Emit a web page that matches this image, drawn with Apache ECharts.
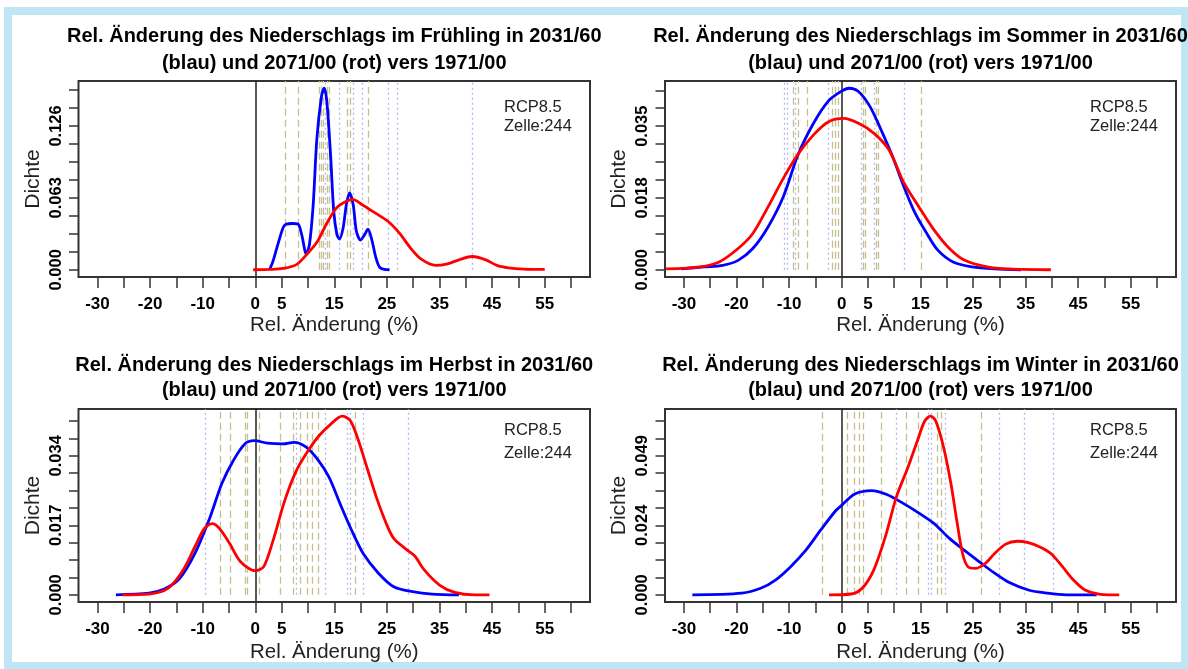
<!DOCTYPE html>
<html>
<head>
<meta charset="utf-8">
<title>Rel. Änderung des Niederschlags</title>
<script src="https://cdn.jsdelivr.net/npm/echarts@6/dist/echarts.min.js"></script>
<style>
  html, body { margin: 0; padding: 0; background: #fff; }
  #chart { width: 1188px; height: 669px; }
</style>
</head>
<body>
<div id="chart"></div>
<script>
// x axis (same for all four panels)
const xTicks = [-30, -25, -20, -15, -10, -5, 0, 5, 10, 15, 20, 25, 30, 35, 40, 45, 50, 55, 60];
const xLabels = [-30, -20, -10, 0, 5, 15, 25, 35, 45, 55];
const xRange = [-33.6, 63.6];

// y tick step per panel (ticks 0..10 steps, labels at 0, 4, 8 steps)
const yTickSteps = [0.01575, 0.0044, 0.00425, 0.0061];

const seasons = ["Frühling", "Sommer", "Herbst", "Winter"];

// Frühling: density of rel. change, 2031/60 (blau) and 2071/00 (rot)
const fruehlingBlau = [
  [2.7, 0], [3.4, 0.008], [4.3, 0.0225], [5.3, 0.037], [5.9, 0.040], [7.0, 0.0405],
  [8.1, 0.040], [8.8, 0.031], [9.7, 0.0139], [10.3, 0.0225], [11.0, 0.057], [11.7, 0.115],
  [12.6, 0.1526], [13.1, 0.159], [13.6, 0.1468], [14.3, 0.1006], [14.9, 0.0514], [15.5, 0.031],
  [16.0, 0.0269], [16.7, 0.037], [17.3, 0.057], [17.9, 0.0673], [18.6, 0.057], [19.2, 0.034],
  [20.0, 0.026], [20.8, 0.031], [21.4, 0.0355], [22.1, 0.0269], [22.9, 0.0109], [23.6, 0.0023],
  [24.5, 0.0003], [25.5, 0]
];
const fruehlingRot = [
  [-0.4, 0], [3.0, 0.0003], [5.3, 0.0012], [7.8, 0.0045], [9.7, 0.013], [11.7, 0.024],
  [13.5, 0.040], [15.4, 0.054], [17.3, 0.060], [18.5, 0.0616], [20.3, 0.057], [22.7, 0.050],
  [25.2, 0.0425], [27.4, 0.032], [29.5, 0.019], [31.6, 0.009], [34.3, 0.0038], [36.5, 0.0052],
  [38.7, 0.0087], [41.2, 0.0116], [43.8, 0.0087], [45.9, 0.0038], [48.1, 0.0017], [51.0, 0.0006],
  [55.0, 0.0003]
];
const fruehlingModelle2031 = [5.7, 8.2, 12.2, 12.6, 12.9, 13.6, 14.0, 17.4, 18.0, 21.4];
const fruehlingModelle2071 = [13.3, 15.9, 18.6, 20.3, 25.3, 27.0, 41.2];

// Sommer
const sommerBlau = [
  [-30.5, 0.0002], [-26.2, 0.0007], [-22.6, 0.0011], [-19.7, 0.0023], [-16.9, 0.0052],
  [-14.0, 0.0105], [-11.1, 0.0179], [-8.3, 0.0282], [-5.4, 0.0358], [-2.5, 0.0414],
  [0, 0.0438], [1.4, 0.0445], [3.2, 0.0437], [5.4, 0.0400], [7.5, 0.0343], [9.7, 0.0277],
  [11.8, 0.0205], [14.0, 0.0138], [16.2, 0.0089], [18.3, 0.0048], [21.2, 0.0019],
  [24.8, 0.0007], [29.1, 0.0002], [34.1, 0]
];
const sommerRot = [
  [-33.4, 0.0002], [-26.9, 0.0007], [-23.3, 0.0019], [-19.7, 0.0052], [-16.9, 0.0089],
  [-14.0, 0.0154], [-11.1, 0.0224], [-8.3, 0.0283], [-5.4, 0.0330], [-2.5, 0.0363],
  [0.4, 0.0371], [3.2, 0.0359], [6.1, 0.0335], [9.0, 0.0294], [11.8, 0.0214], [14.7, 0.0154],
  [17.6, 0.0097], [20.5, 0.0052], [23.4, 0.0023], [27.7, 0.0007], [31.9, 0.0002], [39.8, 0]
];
const sommerModelle2031 = [-9.3, -8.2, -6.5, -1.7, -1.2, -0.6, 4.1, 4.5, 6.5, 7.0, 15.1];
const sommerModelle2071 = [-10.9, -10.3, -8.8, -2.5, 3.7, 6.2, 11.9];

// Herbst
const herbstBlau = [
  [-26.5, 0], [-20.2, 0.0004], [-17.3, 0.0014], [-14.4, 0.004], [-11.5, 0.0101], [-8.6, 0.019],
  [-6.4, 0.0271], [-4.2, 0.0328], [-2.0, 0.0369], [-0.2, 0.0377], [2.3, 0.0371], [5.2, 0.0369],
  [7.4, 0.0373], [9.6, 0.0362], [11.8, 0.0332], [14.0, 0.0288], [16.1, 0.0223], [18.3, 0.0158],
  [20.5, 0.0101], [23.4, 0.0053], [26.3, 0.002], [29.9, 0.0008], [33.6, 0.0002], [38.7, 0]
];
const herbstRot = [
  [-25.3, 0], [-20.2, 0.0002], [-16.6, 0.0016], [-13.7, 0.0061], [-11.5, 0.0117], [-9.7, 0.0162],
  [-8.2, 0.0174], [-6.8, 0.0162], [-4.9, 0.0126], [-2.8, 0.0081], [0, 0.0059], [1.6, 0.0069],
  [3.4, 0.0134], [5.6, 0.0231], [7.8, 0.0304], [10.0, 0.0352], [12.1, 0.0389], [14.3, 0.0417],
  [16.5, 0.0437], [18.0, 0.0427], [19.4, 0.0385], [21.2, 0.0312], [23.0, 0.0239], [24.9, 0.0174],
  [26.3, 0.0138], [28.5, 0.0113], [30.3, 0.0095], [32.1, 0.0061], [35.0, 0.0024], [37.9, 0.0006],
  [41.6, 0], [44.5, 0]
];
const herbstModelle2031 = [-6.6, -4.7, -2.0, -1.6, 0.7, 4.8, 7.3, 8.6, 9.9, 10.8, 12.0, 19.0];
const herbstModelle2071 = [-9.5, 7.8, 13.3, 17.4, 18.0, 20.6, 29.0];

// Winter
const winterBlau = [
  [-28.4, 0], [-19.0, 0.0006], [-15.4, 0.0023], [-12.6, 0.0052], [-9.7, 0.0099], [-6.8, 0.0157],
  [-4.0, 0.0227], [-1.1, 0.0296], [0, 0.0314], [2.5, 0.0354], [5.7, 0.0366], [8.6, 0.0352],
  [11.8, 0.032], [14.7, 0.0287], [17.6, 0.025], [20.5, 0.0198], [23.3, 0.0157], [26.2, 0.0116],
  [29.1, 0.0076], [31.9, 0.0043], [35.5, 0.0017], [39.1, 0.0006], [42.7, 0], [48.5, 0]
];
const winterRot = [
  [-2.4, 0], [1.8, 0.0003], [3.9, 0.0023], [6.1, 0.0087], [8.3, 0.0203], [10.4, 0.0343],
  [12.6, 0.0447], [14.4, 0.054], [15.8, 0.061], [16.9, 0.0627], [17.9, 0.061], [19.4, 0.0517],
  [20.8, 0.0389], [21.9, 0.0261], [23.0, 0.0145], [24.0, 0.0099], [25.5, 0.0093], [27.3, 0.011],
  [29.1, 0.0145], [31.2, 0.0178], [33.4, 0.0188], [35.5, 0.0183], [37.7, 0.0168], [39.8, 0.0145],
  [42.0, 0.0099], [44.1, 0.0052], [46.3, 0.0017], [49.2, 0.0002], [52.8, 0]
];
const winterModelle2031 = [-3.6, 1.1, 2.4, 3.3, 4.1, 7.5, 12.2, 14.5, 18.1, 18.9, 26.5];
const winterModelle2071 = [10.3, 16.5, 17.0, 19.7, 29.9, 34.7, 40.2];

const sans = '"Liberation Sans", Arial, sans-serif';

// layout of the 2x2 panels
const panels = [
  { blue: fruehlingBlau, red: fruehlingRot, m1: fruehlingModelle2031, m2: fruehlingModelle2071,
    grid: { left: 78.5, top: 81, width: 511.5, height: 196 }, titleY: [36.7, 63.3], noteY: [107, 126], nameGap: 38 },
  { blue: sommerBlau, red: sommerRot, m1: sommerModelle2031, m2: sommerModelle2071,
    grid: { left: 665, top: 81, width: 511, height: 196 }, titleY: [36.7, 63.3], noteY: [107, 126], nameGap: 38 },
  { blue: herbstBlau, red: herbstRot, m1: herbstModelle2031, m2: herbstModelle2071,
    grid: { left: 78.5, top: 409, width: 511.5, height: 193 }, titleY: [365, 390.7], noteY: [430.7, 453.3], nameGap: 40 },
  { blue: winterBlau, red: winterRot, m1: winterModelle2031, m2: winterModelle2071,
    grid: { left: 665, top: 409, width: 511, height: 193 }, titleY: [365, 390.7], noteY: [430.7, 453.3], nameGap: 40 }
];

const option = {
  animation: false,
  backgroundColor: "#fff",
  grid: [],
  xAxis: [],
  yAxis: [],
  series: [],
  graphic: [
    {
      type: "rect",
      silent: true,
      shape: { x: 8, y: 11, width: 1177, height: 655 },
      style: { fill: "none", stroke: "#bfe6f5", lineWidth: 8 }
    }
  ]
};

function vLines(values, top, style) {
  return values.map((v) => [
    { coord: [v, 0], lineStyle: style },
    { coord: [v, top] }
  ]);
}

panels.forEach((p, i) => {
  const peak = Math.max(...p.blue.map((d) => d[1]), ...p.red.map((d) => d[1]));
  const yMin = -0.04 * peak;
  const yMax = 1.04 * peak;
  const step = yTickSteps[i];
  const yTicks = [];
  for (let k = 0; k <= 10; k++) yTicks.push(+(k * step).toFixed(6));
  const yLabels = [0, yTicks[4], yTicks[8]];
  const cx = p.grid.left + p.grid.width / 2;

  option.grid.push({
    ...p.grid,
    show: true,
    borderColor: "#333",
    borderWidth: 2,
    backgroundColor: "transparent"
  });

  option.xAxis.push({
    type: "value",
    gridIndex: i,
    min: xRange[0],
    max: xRange[1],
    axisLine: { show: false, onZero: false },
    axisTick: { show: true, length: 11, customValues: xTicks, lineStyle: { color: "#333", width: 1.5 } },
    axisLabel: {
      customValues: xLabels,
      margin: 19,
      color: "#000",
      fontFamily: sans,
      fontWeight: "bold",
      fontSize: 17
    },
    splitLine: { show: false },
    name: "Rel. Änderung (%)",
    nameLocation: "middle",
    nameGap: p.nameGap,
    nameTextStyle: { fontFamily: sans, fontSize: 20.5, color: "#222" }
  });

  option.yAxis.push({
    type: "value",
    gridIndex: i,
    min: yMin,
    max: yMax,
    axisLine: { show: false, onZero: false },
    axisTick: { show: true, length: 9.5, customValues: yTicks, lineStyle: { color: "#333", width: 1.5 } },
    axisLabel: {
      customValues: yLabels,
      rotate: 90,
      margin: 14,
      color: "#000",
      fontFamily: sans,
      fontWeight: "bold",
      fontSize: 16.5,
      formatter: (v) => v.toFixed(3)
    },
    splitLine: { show: false },
    name: "Dichte",
    nameLocation: "middle",
    nameGap: 35,
    nameTextStyle: { fontFamily: sans, fontSize: 21, color: "#222" }
  });

  option.series.push(
    {
      type: "line",
      xAxisIndex: i,
      yAxisIndex: i,
      data: p.blue,
      showSymbol: false,
      smooth: 0.3,
      lineStyle: { color: "#0000ff", width: 2.8 },
      z: 3,
      markLine: {
        silent: true,
        symbol: "none",
        label: { show: false },
        z: 1,
        data: [
          ...vLines(p.m1, yMax, { color: "#c4bf8e", type: [7, 4], width: 1.3 }),
          { xAxis: 0, lineStyle: { color: "#222", type: "solid", width: 1.5 } }
        ]
      }
    },
    {
      type: "line",
      xAxisIndex: i,
      yAxisIndex: i,
      data: p.red,
      showSymbol: false,
      smooth: 0.3,
      lineStyle: { color: "#ff0000", width: 2.8 },
      z: 4,
      markLine: {
        silent: true,
        symbol: "none",
        label: { show: false },
        z: 1,
        data: vLines(p.m2, yMax, { color: "#b3b6f0", type: [2, 3], width: 1.3 })
      }
    }
  );

  option.graphic.push(
    {
      type: "text",
      x: cx,
      y: p.titleY[0],
      silent: true,
      style: {
        text: "Rel. Änderung des Niederschlags im " + seasons[i] + " in 2031/60",
        align: "center",
        verticalAlign: "middle",
        fontFamily: sans,
        fontWeight: "bold",
        fontSize: 20,
        fill: "#000"
      }
    },
    {
      type: "text",
      x: cx,
      y: p.titleY[1],
      silent: true,
      style: {
        text: "(blau) und 2071/00 (rot) vers 1971/00",
        align: "center",
        verticalAlign: "middle",
        fontFamily: sans,
        fontWeight: "bold",
        fontSize: 20,
        fill: "#000"
      }
    },
    {
      type: "text",
      x: p.grid.left + p.grid.width - 86,
      y: p.noteY[0],
      silent: true,
      style: { text: "RCP8.5", verticalAlign: "middle", fontFamily: sans, fontSize: 16.5, fill: "#222" }
    },
    {
      type: "text",
      x: p.grid.left + p.grid.width - 86,
      y: p.noteY[1],
      silent: true,
      style: { text: "Zelle:244", verticalAlign: "middle", fontFamily: sans, fontSize: 16.5, fill: "#222" }
    }
  );
});

const chart = echarts.init(document.getElementById("chart"));
chart.setOption(option);
</script>
</body>
</html>
